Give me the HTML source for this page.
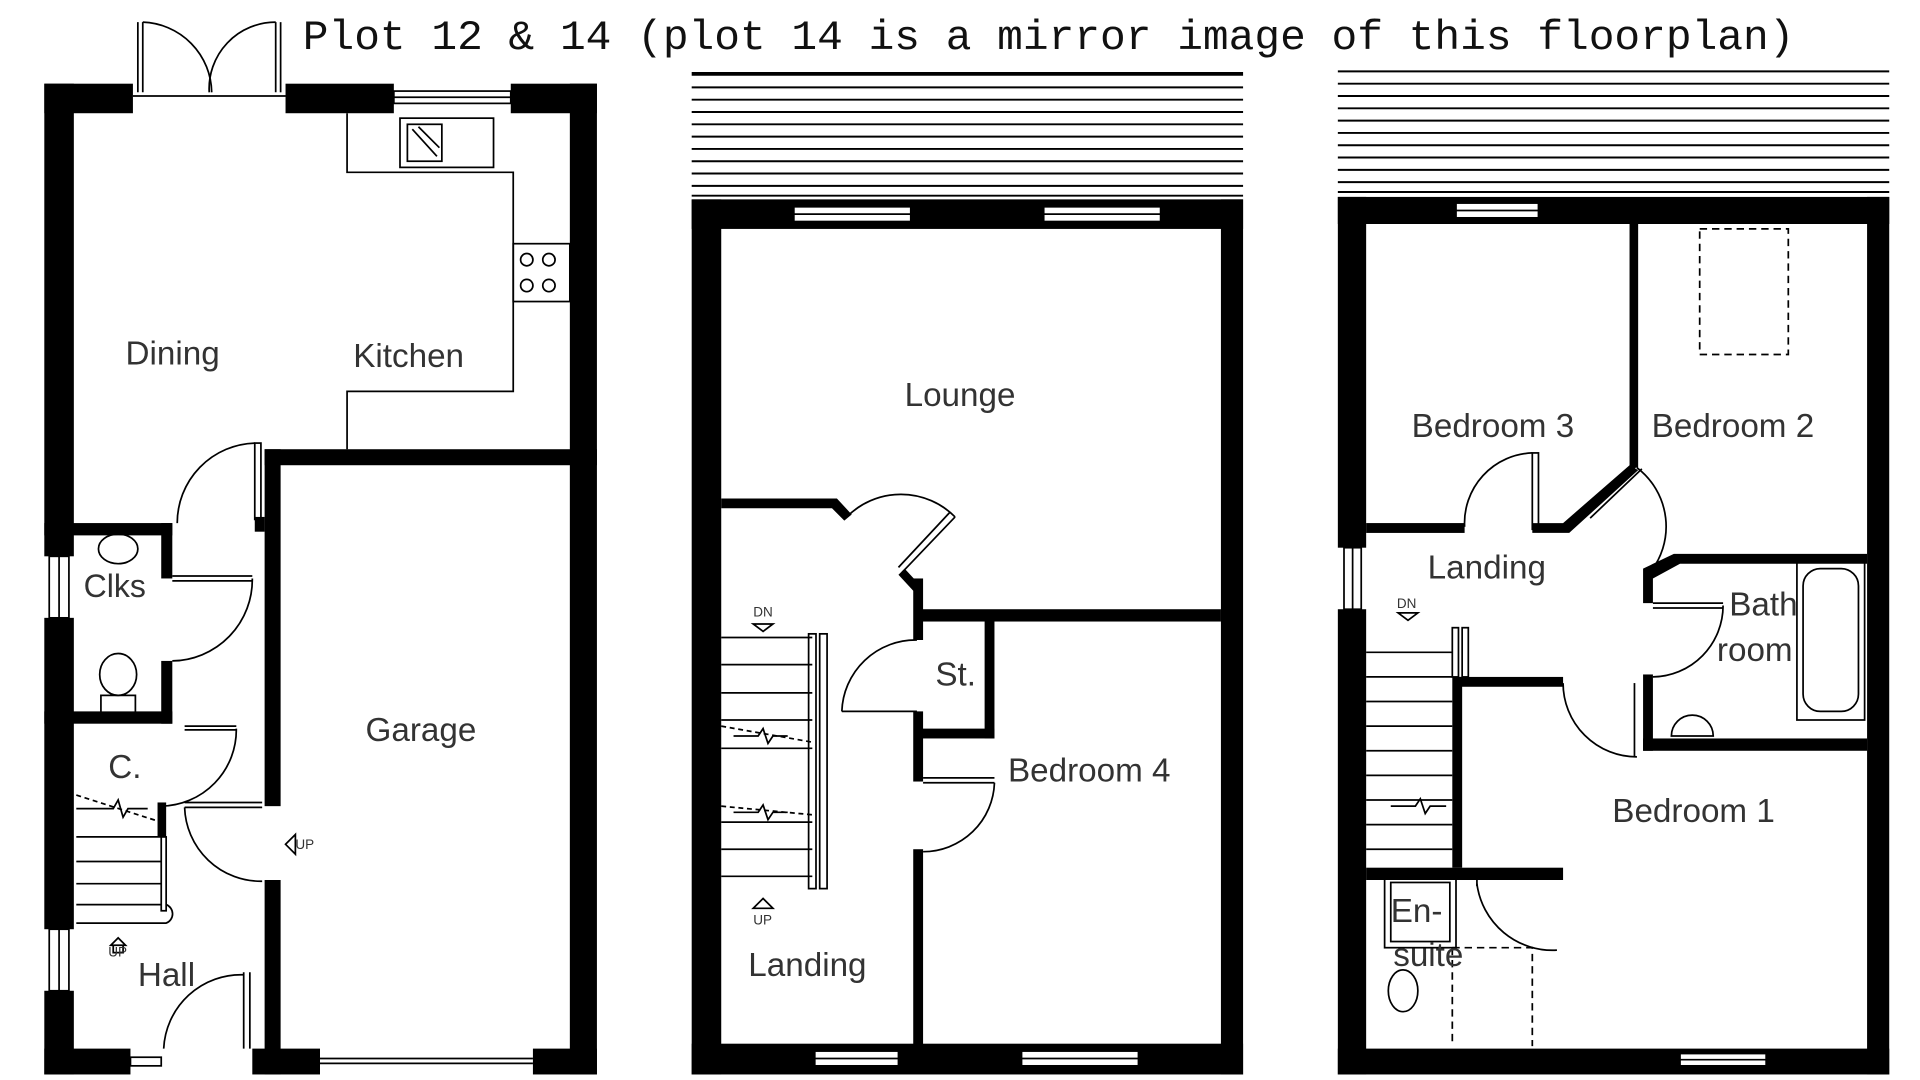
<!DOCTYPE html>
<html><head><meta charset="utf-8"><style>html,body{margin:0;padding:0;background:#fff;overflow:hidden}svg{display:block}</style></head><body>
<svg width="1920" height="1080" viewBox="0 0 1560 877.5" xmlns="http://www.w3.org/2000/svg">
<rect width="1560" height="877.5" fill="#fff"/>
<text x="246" y="40" font-family="Liberation Mono, monospace" font-size="34" textLength="1212" lengthAdjust="spacingAndGlyphs" fill="#111">Plot 12 &amp; 14 (plot 14 is a mirror image of this floorplan)</text>

<g fill="#000" stroke="none">
<!-- GROUND FLOOR -->
<rect x="36" y="68" width="24" height="384"/>
<rect x="36" y="502" width="24" height="253"/>
<rect x="36" y="805" width="24" height="68"/>
<rect x="36" y="68" width="72" height="24"/>
<rect x="232" y="68" width="88" height="24"/>
<rect x="415" y="68" width="70" height="24"/>
<rect x="463" y="68" width="22" height="805"/>
<rect x="36" y="852" width="70" height="21"/>
<rect x="205" y="852" width="55" height="21"/>
<rect x="433" y="852" width="52" height="21"/>
<rect x="215" y="365" width="270" height="13"/>
<rect x="215" y="365" width="13" height="290"/>
<rect x="215" y="715" width="13" height="158"/>
<rect x="207" y="420" width="8" height="12"/>
<rect x="36" y="425" width="104" height="10"/>
<rect x="131" y="425" width="9" height="45"/>
<rect x="131" y="537" width="9" height="51"/>
<rect x="36" y="578" width="104" height="10"/>
<rect x="128" y="652" width="7" height="28"/>
<!-- FIRST FLOOR -->
<rect x="562" y="162" width="448" height="24"/>
<rect x="562" y="162" width="24" height="711"/>
<rect x="992" y="162" width="18" height="711"/>
<rect x="562" y="848" width="448" height="25"/>
<rect x="745" y="495" width="247" height="10"/>
<rect x="742" y="470" width="8" height="50"/>
<rect x="742" y="578" width="8" height="57"/>
<rect x="742" y="690" width="8" height="160"/>
<rect x="800" y="500" width="8" height="100"/>
<rect x="745" y="592" width="63" height="8"/>
<polygon points="586,405 680,405 692,418 686,423 676,413 586,413"/>
<polygon points="735,462 748,476 748,480 742,480 730,467"/>
<!-- SECOND FLOOR -->
<rect x="1087" y="160" width="448" height="22"/>
<rect x="1087" y="160" width="23" height="285"/>
<rect x="1087" y="495" width="23" height="378"/>
<rect x="1517" y="160" width="18" height="713"/>
<rect x="1087" y="852" width="448" height="21"/>
<rect x="1110" y="425" width="80" height="8"/>
<rect x="1324" y="182" width="7" height="198"/>
<polygon points="1324,378 1331,382 1275,433 1245,433 1245,425 1270,425"/>
<polygon points="1335,462 1360,450 1517,450 1517,458 1365,458 1343,470 1343,490 1335,490"/>
<rect x="1335" y="548" width="8" height="62"/>
<rect x="1335" y="600" width="182" height="10"/>
<rect x="1183" y="550" width="87" height="8"/>
<rect x="1180" y="550" width="8" height="155"/>
<rect x="1110" y="705" width="160" height="10"/>
</g>

<g fill="none" stroke="#000" stroke-width="1.4">
<!-- windows ground -->
<rect x="40" y="452" width="16" height="50"/><line x1="48" y1="452" x2="48" y2="502"/>
<rect x="40" y="755" width="16" height="50"/><line x1="48" y1="755" x2="48" y2="805"/>
<rect x="320" y="74" width="95" height="10"/><line x1="320" y1="79" x2="415" y2="79"/>
<rect x="106" y="859" width="25" height="7"/>
<line x1="260" y1="860" x2="433" y2="860"/><line x1="260" y1="864" x2="433" y2="864"/>
<!-- French doors -->
<line x1="112" y1="18" x2="112" y2="75"/><line x1="116" y1="18" x2="116" y2="75"/>
<line x1="228" y1="18" x2="228" y2="75"/><line x1="224" y1="18" x2="224" y2="75"/>
<path d="M116,18 A58,58 0 0 1 172,75"/><path d="M224,18 A54,54 0 0 0 170,75"/>
<line x1="108" y1="78" x2="232" y2="78"/>
<!-- kitchen -->
<path d="M282,92 V140 H417 V318 H282 V365"/>
<rect x="417" y="198" width="46" height="47"/>
<circle cx="428" cy="211" r="5"/><circle cx="446" cy="211" r="5"/><circle cx="428" cy="232" r="5"/><circle cx="446" cy="232" r="5"/>
<rect x="325" y="96" width="76" height="40"/><rect x="331" y="101" width="28" height="30"/>
<line x1="335" y1="105" x2="355" y2="127"/><line x1="340" y1="103" x2="357" y2="120"/>
<!-- doors ground -->
<rect x="207" y="360" width="5" height="62"/>
<path d="M207,360 A65,65 0 0 0 144,425"/>
<line x1="140" y1="468" x2="205" y2="468"/><line x1="140" y1="472" x2="205" y2="472"/>
<path d="M205,470 A66,66 0 0 1 140,537"/>
<line x1="150" y1="590" x2="192" y2="590"/><line x1="150" y1="593" x2="192" y2="593"/>
<path d="M192,592 A62,62 0 0 1 131,655"/>
<line x1="150" y1="652" x2="213" y2="652"/><line x1="150" y1="656" x2="213" y2="656"/>
<path d="M150,656 A62,62 0 0 0 213,716"/>
<line x1="198" y1="790" x2="198" y2="852"/><line x1="203" y1="790" x2="203" y2="852"/>
<path d="M198,792 A63,63 0 0 0 133,852"/>
<!-- wc -->
<ellipse cx="96" cy="446" rx="16" ry="12"/>
<ellipse cx="96" cy="548" rx="15" ry="17"/><rect x="82" y="565" width="28" height="14"/>
<!-- stairs ground -->
<line x1="62" y1="680" x2="131" y2="680"/><line x1="62" y1="700" x2="131" y2="700"/><line x1="62" y1="718" x2="131" y2="718"/><line x1="62" y1="735" x2="131" y2="735"/>
<rect x="131" y="680" width="4" height="60"/>
<path d="M135,735 A8,8 0 0 1 135,750 H62"/>
<path d="M62,646 L131,668" stroke-dasharray="4,3"/>
<path d="M62,657 H92 L96,650 L100,664 L104,657 H120"/>
<path d="M96,762 L90,768 H102 Z M92,768 V774 H100 V768"/>
<path d="M240,678 L232,686 L240,694 Z"/>

<!-- FIRST FLOOR details -->
<g stroke-width="1.6">
<line x1="562" y1="60" x2="1010" y2="60" stroke-width="3"/>
<line x1="562" y1="71" x2="1010" y2="71"/><line x1="562" y1="81" x2="1010" y2="81"/><line x1="562" y1="91" x2="1010" y2="91"/><line x1="562" y1="101" x2="1010" y2="101"/><line x1="562" y1="111" x2="1010" y2="111"/><line x1="562" y1="121" x2="1010" y2="121"/><line x1="562" y1="131" x2="1010" y2="131"/><line x1="562" y1="141" x2="1010" y2="141"/><line x1="562" y1="151" x2="1010" y2="151"/><line x1="562" y1="159" x2="1010" y2="159"/>
<line x1="1087" y1="58" x2="1535" y2="58"/><line x1="1087" y1="68" x2="1535" y2="68"/><line x1="1087" y1="78" x2="1535" y2="78"/><line x1="1087" y1="88" x2="1535" y2="88"/><line x1="1087" y1="98" x2="1535" y2="98"/><line x1="1087" y1="108" x2="1535" y2="108"/><line x1="1087" y1="118" x2="1535" y2="118"/><line x1="1087" y1="128" x2="1535" y2="128"/><line x1="1087" y1="138" x2="1535" y2="138"/><line x1="1087" y1="148" x2="1535" y2="148"/><line x1="1087" y1="156" x2="1535" y2="156"/>
</g>
</g>
<g fill="#fff" stroke="#000" stroke-width="1.4">
<rect x="645" y="168" width="95" height="12"/><rect x="848" y="168" width="95" height="12"/>
<rect x="662" y="854" width="68" height="12"/><rect x="830" y="854" width="95" height="12"/>
<rect x="1183" y="165" width="67" height="12"/>
<rect x="1365" y="856" width="70" height="10"/>
<rect x="1092" y="445" width="14" height="50"/>
</g>
<g fill="none" stroke="#000" stroke-width="1.4">
<line x1="645" y1="174" x2="740" y2="174"/><line x1="848" y1="174" x2="943" y2="174"/>
<line x1="662" y1="860" x2="730" y2="860"/><line x1="830" y1="860" x2="925" y2="860"/>
<line x1="1183" y1="171" x2="1250" y2="171"/><line x1="1365" y1="861" x2="1435" y2="861"/>
<line x1="1099" y1="445" x2="1099" y2="495"/>
<!-- lounge door -->
<path d="M688,420 A62,62 0 0 1 776,420"/>
<line x1="776" y1="420" x2="733" y2="465"/><line x1="772" y1="416" x2="730" y2="461"/>
<!-- st door -->
<line x1="684" y1="578" x2="745" y2="578"/>
<path d="M745,520 A60,60 0 0 0 684,578"/>
<!-- bed4 door -->
<line x1="750" y1="632" x2="808" y2="632"/><line x1="750" y1="636" x2="808" y2="636"/>
<path d="M808,636 A58,58 0 0 1 750,692"/>
<!-- stairs first -->
<line x1="586" y1="518" x2="660" y2="518"/><line x1="586" y1="540" x2="660" y2="540"/><line x1="586" y1="563" x2="660" y2="563"/><line x1="586" y1="585" x2="660" y2="585"/><line x1="586" y1="608" x2="660" y2="608"/>
<line x1="586" y1="668" x2="660" y2="668"/><line x1="586" y1="690" x2="660" y2="690"/><line x1="586" y1="712" x2="660" y2="712"/>
<rect x="657" y="515" width="6" height="207"/><rect x="666" y="515" width="6" height="207"/>
<path d="M586,590 L660,603" stroke-dasharray="4,3"/><path d="M586,655 L660,662" stroke-dasharray="4,3"/>
<path d="M596,598 H616 L620,592 L624,604 L628,598 H640"/>
<path d="M596,660 H616 L620,654 L624,666 L628,660 H640"/>
<path d="M612,507 H628 L620,513 Z"/><path d="M620,730 L612,738 H628 Z"/>

<!-- SECOND FLOOR details -->
<rect x="1381" y="186" width="72" height="102" stroke-dasharray="6,4"/>
<rect x="1245" y="368" width="5" height="62"/>
<path d="M1245,368 A57,57 0 0 0 1190,428"/>
<line x1="1288" y1="418" x2="1330" y2="378"/><line x1="1292" y1="421" x2="1334" y2="381"/>
<path d="M1330,380 A60,60 0 0 1 1340,466"/>
<line x1="1343" y1="490" x2="1400" y2="490"/><line x1="1343" y1="494" x2="1400" y2="494"/>
<path d="M1400,492 A58,58 0 0 1 1343,550"/>
<rect x="1460" y="455" width="55" height="130"/><rect x="1465" y="462" width="45" height="116" rx="14"/>
<path d="M1358,598 A17,17 0 0 1 1392,598 Z"/>
<line x1="1328" y1="555" x2="1328" y2="615"/>
<path d="M1270,555 A60,60 0 0 0 1330,615"/>
<line x1="1110" y1="530" x2="1180" y2="530"/><line x1="1110" y1="550" x2="1180" y2="550"/><line x1="1110" y1="570" x2="1180" y2="570"/><line x1="1110" y1="590" x2="1180" y2="590"/><line x1="1110" y1="610" x2="1180" y2="610"/><line x1="1110" y1="630" x2="1180" y2="630"/><line x1="1110" y1="650" x2="1180" y2="650"/><line x1="1110" y1="670" x2="1180" y2="670"/><line x1="1110" y1="690" x2="1180" y2="690"/>
<rect x="1180" y="510" width="5" height="40"/><rect x="1188" y="510" width="5" height="40"/>
<path d="M1130,655 H1150 L1154,649 L1158,661 L1162,655 H1175"/>
<path d="M1136,498 H1152 L1144,504 Z"/>
<rect x="1125" y="712" width="58" height="58"/><rect x="1130" y="717" width="48" height="48"/>
<ellipse cx="1140" cy="805" rx="12" ry="17"/>
<line x1="1200" y1="715" x2="1200" y2="720"/>
<path d="M1200,718 A62,62 0 0 0 1265,772"/>
<path d="M1180,770 H1245 V850 M1180,770 V850" stroke-dasharray="6,4"/>
</g>

<g font-family="Liberation Sans, sans-serif" font-size="27" fill="#333" stroke="#fff" stroke-width="0">
<text x="102" y="296">Dining</text>
<text x="287" y="298">Kitchen</text>
<text x="68" y="485" font-size="26">Clks</text>
<text x="297" y="602">Garage</text>
<text x="88" y="632">C.</text>
<text x="112" y="801">Hall</text>
<text x="735" y="330">Lounge</text>
<text x="760" y="557">St.</text>
<text x="819" y="635">Bedroom 4</text>
<text x="608" y="793">Landing</text>
<text x="1147" y="355">Bedroom 3</text>
<text x="1342" y="355">Bedroom 2</text>
<text x="1160" y="470">Landing</text>
<text x="1405" y="500">Bath</text>
<text x="1395" y="537">room</text>
<text x="1310" y="668">Bedroom 1</text>
<text x="1130" y="749">En-</text>
<text x="1132" y="785">suite</text>
</g>
<g font-family="Liberation Sans, sans-serif" font-size="11" fill="#333">
<text x="240" y="690">UP</text><text x="88" y="777">UP</text>
<text x="612" y="501">DN</text><text x="612" y="751">UP</text><text x="1135" y="494">DN</text>
</g>
</svg>
</body></html>
